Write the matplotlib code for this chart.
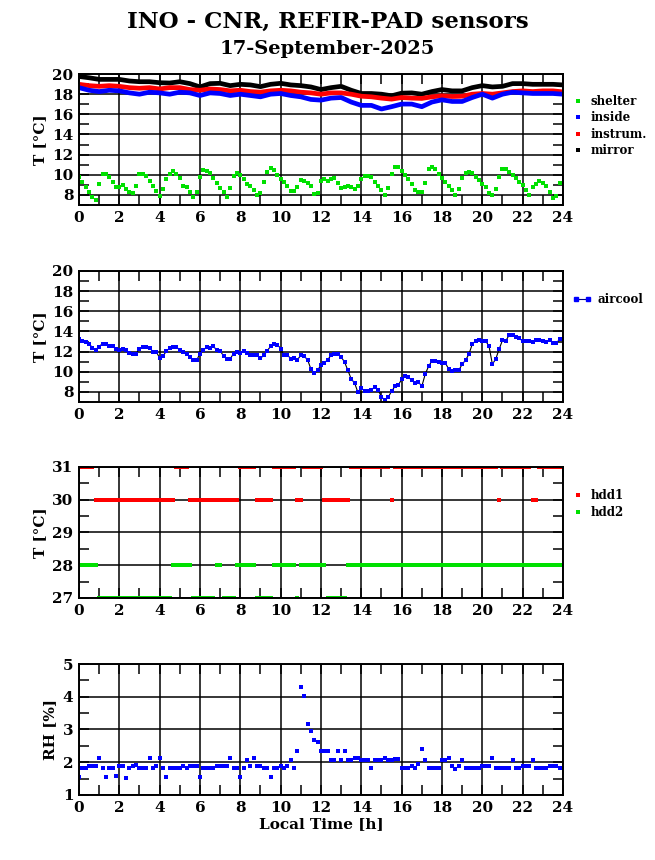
import numpy as np
import matplotlib.pyplot as plt
from matplotlib.ticker import MultipleLocator
from matplotlib.lines import Line2D

plt.rcParams['font.family'] = ['DejaVu Serif']
plt.rcParams['font.weight'] = 'bold'

# 10-minute samples
shelter = [9.76, 9.24, 8.82, 8.26, 7.80, 7.48, 9.11, 10.12, 10.12, 9.83, 9.24, 8.75,
           8.82, 8.95, 8.59, 8.29, 8.20, 8.85, 10.03, 10.12, 9.90, 9.37, 8.92, 8.42,
           7.93, 8.56, 9.57, 10.12, 10.38, 10.03, 9.67, 8.92, 8.75, 8.26, 7.77, 8.29,
           9.76, 10.45, 10.38, 10.16, 9.73, 9.14, 8.69, 8.26, 7.77, 8.72, 9.93, 10.22,
           10.00, 9.57, 9.11, 8.92, 8.46, 8.03, 8.16, 9.24, 10.32, 10.65, 10.48, 9.96,
           9.57, 9.24, 8.92, 8.36, 8.36, 8.75, 9.44, 9.41, 9.18, 8.85, 8.13, 8.20,
           9.34, 9.57, 9.41, 9.60, 9.67, 9.18, 8.69, 8.79, 8.92, 8.79, 8.59, 8.85,
           9.57, 9.93, 9.93, 9.76, 9.24, 8.85, 8.46, 8.03, 8.72, 10.03, 10.75, 10.75,
           10.42, 10.00, 9.57, 9.08, 8.52, 8.26, 8.26, 9.18, 10.55, 10.75, 10.61, 10.03,
           9.73, 9.31, 8.85, 8.46, 8.03, 8.59, 9.73, 10.22, 10.32, 10.16, 9.76, 9.44,
           9.11, 8.79, 8.20, 7.97, 8.59, 9.83, 10.55, 10.61, 10.32, 10.00, 9.67, 9.31,
           8.98, 8.46, 8.03, 8.75, 9.11, 9.34, 9.18, 8.85, 8.29, 7.71, 7.93, 9.18]

# 30-minute samples
inside = [18.65, 18.39, 18.26, 18.39, 18.33, 18.13, 18.00, 18.20, 18.13, 18.00,
          18.20, 18.13, 17.87, 18.13, 18.07, 17.87, 18.00, 17.87, 17.74, 18.00,
          18.07, 17.87, 17.74, 17.48, 17.41, 17.61, 17.67, 17.22, 16.89, 16.89,
          16.53, 16.76, 17.02, 17.02, 16.76, 17.22, 17.44, 17.28, 17.28, 17.67,
          18.00, 17.61, 18.00, 18.20, 18.13, 18.07, 18.07, 18.07, 18.00]
instrum = [18.98, 18.85, 18.78, 18.85, 18.78, 18.65, 18.59, 18.65, 18.52, 18.65,
           18.65, 18.46, 18.39, 18.52, 18.46, 18.33, 18.39, 18.26, 18.20, 18.33,
           18.39, 18.33, 18.20, 18.13, 18.00, 18.13, 18.13, 18.00, 17.80, 17.74,
           17.61, 17.51, 17.67, 17.61, 17.58, 17.74, 17.84, 17.77, 17.80, 18.00,
           18.07, 18.00, 18.13, 18.26, 18.33, 18.26, 18.33, 18.33, 18.23]
mirror = [19.76, 19.63, 19.47, 19.47, 19.47, 19.31, 19.24, 19.24, 19.14, 19.11,
          19.24, 19.05, 18.72, 19.05, 19.08, 18.85, 18.98, 18.92, 18.75, 18.98,
          19.08, 18.92, 18.85, 18.72, 18.46, 18.65, 18.78, 18.39, 18.07, 18.07,
          18.00, 17.84, 18.10, 18.13, 18.00, 18.26, 18.46, 18.33, 18.33, 18.65,
          18.85, 18.72, 18.78, 19.05, 19.05, 18.98, 18.98, 18.98, 18.92]

aircool = [13.2, 13.1, 13.0, 12.8, 12.37, 12.2, 12.5, 12.8, 12.8, 12.6, 12.53, 12.23,
           12.2, 12.27, 12.13, 11.9, 11.8, 11.8, 12.27, 12.47, 12.47, 12.37, 12.0, 11.97,
           11.37, 11.57, 12.03, 12.37, 12.47, 12.47, 12.13, 12.0, 11.8, 11.47, 11.14, 11.14,
           11.8, 12.13, 12.47, 12.37, 12.53, 12.13, 12.07, 11.57, 11.3, 11.3, 11.8, 11.97,
           11.87, 12.03, 11.87, 11.67, 11.63, 11.63, 11.34, 11.63, 12.07, 12.53, 12.8, 12.7,
           12.3, 11.63, 11.7, 11.27, 11.4, 11.2, 11.63, 11.53, 11.2, 10.27, 9.87, 10.13,
           10.7, 10.87, 11.2, 11.63, 11.77, 11.77, 11.47, 10.97, 10.14, 9.28, 8.88, 7.95,
           8.41, 8.05, 8.08, 8.21, 8.48, 8.21, 7.48, 7.22, 7.48, 8.05, 8.55, 8.68,
           9.24, 9.57, 9.47, 9.14, 8.88, 8.98, 8.55, 9.74, 10.54, 11.07, 11.07, 10.97,
           10.87, 10.87, 10.27, 10.07, 10.2, 10.14, 10.74, 11.14, 11.73, 12.73, 13.06, 13.16,
           13.06, 13.06, 12.53, 10.74, 11.27, 12.23, 13.13, 13.06, 13.66, 13.66, 13.46, 13.3,
           13.06, 13.06, 13.06, 12.96, 13.13, 13.13, 13.03, 12.93, 13.13, 12.86, 12.86, 13.2]

hdd1 = ([31] * 5 + [30] * 24 + [31] * 4 + [30] * 15 + [31] * 5 + [30] * 5 +
        [31] * 7 + [30] * 2 + [31] * 6 + [30] * 8 + [31] * 12 + [30] * 1 +
        [31] * 31 + [30] * 1 + [31] * 9 + [30] * 2 + [31] * 7)
hdd2 = ([28] * 6 + [27] * 22 + [28] * 6 + [27] * 7 + [28] * 2 + [27] * 4 +
        [28] * 6 + [27] * 5 + [28] * 7 + [27] * 1 + [28] * 8 + [27] * 6 + [28] * 64)

rh = [1.56, 1.82, 1.82, 1.87, 1.87, 1.87, 2.14, 1.82, 1.56, 1.82, 1.82, 1.59,
      1.87, 1.87, 1.53, 1.82, 1.87, 1.91, 1.82, 1.82, 1.82, 2.14, 1.82, 1.87,
      2.14, 1.81, 1.56, 1.82, 1.82, 1.82, 1.82, 1.87, 1.82, 1.87, 1.87, 1.87,
      1.56, 1.82, 1.82, 1.82, 1.82, 1.87, 1.87, 1.87, 1.87, 2.14, 1.82, 1.82,
      1.56, 1.82, 2.07, 1.87, 2.14, 1.87, 1.87, 1.82, 1.82, 1.56, 1.82, 1.82,
      1.87, 1.82, 1.87, 2.07, 1.81, 2.35, 4.29, 4.01, 3.17, 2.96, 2.68, 2.62,
      2.35, 2.35, 2.35, 2.07, 2.07, 2.35, 2.07, 2.35, 2.07, 2.07, 2.14, 2.14,
      2.07, 2.07, 2.07, 1.82, 2.07, 2.07, 2.07, 2.14, 2.07, 2.07, 2.11, 2.11,
      1.82, 1.82, 1.82, 1.88, 1.82, 1.95, 2.41, 2.07, 1.82, 1.82, 1.82, 1.82,
      2.07, 2.07, 2.14, 1.88, 1.79, 1.88, 2.07, 1.82, 1.82, 1.82, 1.82, 1.82,
      1.88, 1.88, 1.88, 2.14, 1.82, 1.82, 1.82, 1.82, 1.82, 2.07, 1.82, 1.82,
      1.88, 1.88, 1.88, 2.07, 1.82, 1.82, 1.82, 1.82, 1.88, 1.88, 1.88, 1.82]

def t10(v):
    return np.arange(len(v)) / 6.0

t30 = np.arange(len(inside)) * 0.5

GREEN = '#00e000'
BLUE = '#0000ff'
RED = '#ff0000'

fig = plt.figure(figsize=(6.55, 8.6), dpi=100)
fig.text(0.5, 0.975, 'INO - CNR, REFIR-PAD sensors', ha='center', va='center',
         fontsize=16.5, fontweight='bold')
fig.text(0.5, 0.943, '17-September-2025', ha='center', va='center',
         fontsize=14, fontweight='bold')

L, W, H = 0.1206, 0.7389, 0.1523
bottoms = [0.7616, 0.5326, 0.3047, 0.0756]
axes = [fig.add_axes([L, b, W, H]) for b in bottoms]

def style(ax, ylim, major, minor):
    ax.set_xlim(0, 24)
    ax.set_ylim(*ylim)
    ax.xaxis.set_major_locator(MultipleLocator(2))
    ax.xaxis.set_minor_locator(MultipleLocator(1))
    ax.yaxis.set_major_locator(MultipleLocator(major))
    ax.yaxis.set_minor_locator(MultipleLocator(minor))
    ax.grid(True, which='major', color='black', linewidth=1.1)
    ax.tick_params(which='both', direction='in', top=True, right=True,
                   length=7, width=1.1, labelsize=11, pad=4)
    for s in ax.spines.values():
        s.set_linewidth(1.4)
    for lab in ax.get_xticklabels() + ax.get_yticklabels():
        lab.set_fontweight('bold')

ms = 3.0
leg_kw = dict(loc='upper left', frameon=False, prop={'size': 8.5, 'weight': 'bold'},
              handlelength=1.0, handletextpad=0.5, labelspacing=0.28, borderaxespad=0)

# panel 1
ax = axes[0]
ax.plot(t30, mirror, color='black', lw=3.4)
ax.plot(t30, instrum, color=RED, lw=3.4)
ax.plot(t30, inside, color=BLUE, lw=3.4)
ax.plot(t10(shelter), shelter, 's', color=GREEN, ms=ms, mew=0)
style(ax, (7, 20), 2, 1)
ax.yaxis.set_major_locator(plt.FixedLocator([8, 10, 12, 14, 16, 18, 20]))
ax.set_ylabel('T [°C]', fontsize=11, fontweight='bold')
hs = [Line2D([], [], marker='s', ls='none', color=c, ms=ms, mew=0)
      for c in (GREEN, BLUE, RED, 'black')]
ax.legend(hs, ['shelter', 'inside', 'instrum.', 'mirror'],
          bbox_to_anchor=(1.01, 0.875), **leg_kw)

# panel 2
ax = axes[1]
ax.plot(t10(aircool), aircool, '-', color='black', lw=0.8)
ax.plot(t10(aircool), aircool, 's', color=BLUE, ms=ms, mew=0)
style(ax, (7, 20), 2, 1)
ax.yaxis.set_major_locator(plt.FixedLocator([8, 10, 12, 14, 16, 18, 20]))
ax.set_ylabel('T [°C]', fontsize=11, fontweight='bold')
h = Line2D([], [], marker='s', ls='-', color='#000080', lw=0.8, mfc=BLUE, mec=BLUE, ms=ms)
ax.legend([h], ['aircool'], bbox_to_anchor=(1.01, 0.865), numpoints=2,
          **dict(leg_kw, handlelength=1.6))

# panel 3
ax = axes[2]
ax.plot(t10(hdd1), hdd1, 's', color=RED, ms=ms, mew=0)
ax.plot(t10(hdd2), hdd2, 's', color=GREEN, ms=ms, mew=0)
style(ax, (27, 31), 1, 0.5)
ax.set_ylabel('T [°C]', fontsize=11, fontweight='bold')
hs = [Line2D([], [], marker='s', ls='none', color=c, ms=ms, mew=0) for c in (RED, GREEN)]
ax.legend(hs, ['hdd1', 'hdd2'], bbox_to_anchor=(1.01, 0.865), **leg_kw)

# panel 4
ax = axes[3]
ax.plot(t10(rh), rh, 's', color=BLUE, ms=ms, mew=0)
style(ax, (1, 5), 1, 0.5)
ax.set_ylabel('RH [%]', fontsize=11, fontweight='bold')
ax.set_xlabel('Local Time [h]', fontsize=11, fontweight='bold', labelpad=2)

fig.savefig('out.png', dpi=100)
